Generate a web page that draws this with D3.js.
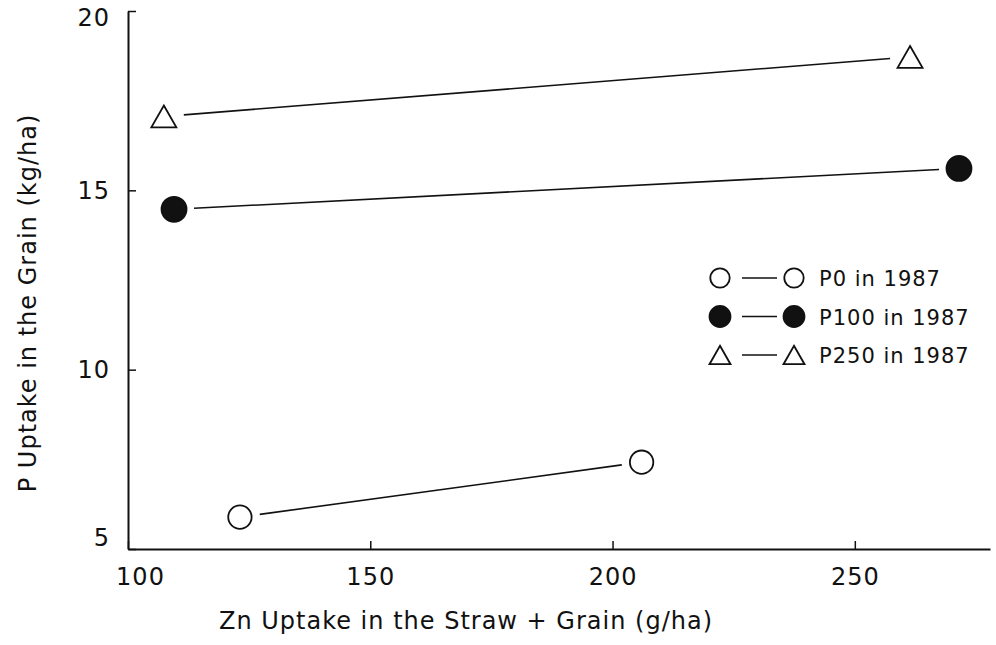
<!DOCTYPE html>
<html>
<head>
<meta charset="utf-8">
<script src="https://cdn.jsdelivr.net/npm/d3@7"></script>
<style>
  body { margin: 0; background: #fff; }
  svg text { font-family: "DejaVu Sans", sans-serif; fill: #111; }
</style>
</head>
<body>
<div id="chart"></div>
<script>
// series: [Zn uptake (g/ha), P uptake (kg/ha)]
var seriesNames = ["P0 in 1987", "P100 in 1987", "P250 in 1987"]
var p0 = [[123.1, 5.89], [206.0, 7.42]]
var p100 = [[109.5, 14.47], [271.5, 15.61]]
var p250 = [[107.4, 17.06], [261.4, 18.72]]
var xTicks = [100, 150, 200, 250]
var yTicks = [5, 10, 15, 20]

function chart(container) {
	var width = 996
	var height = 645
	var left = 128, right = 990, top = 11, bottom = 549

	var svg = d3.select(container).append("svg")
		.attr("width", width)
		.attr("height", height)

	var x = d3.scaleLinear().domain([100, 277.9]).range([left, right])
	var y = d3.scaleLinear().domain([5, 20]).range([bottom, top])

	var xAxis = svg.append("g")
		.attr("transform", "translate(0," + bottom + ")")
		.call(d3.axisBottom(x).tickValues(xTicks).tickSizeInner(-8).tickSizeOuter(0).tickPadding(19))
	var yAxis = svg.append("g")
		.attr("transform", "translate(" + left + ",0)")
		.call(d3.axisLeft(y).tickValues(yTicks).tickSizeInner(-8).tickSizeOuter(0).tickPadding(18))

	;[xAxis, yAxis].forEach(function(g) {
		g.select(".domain").attr("stroke", "#111").attr("stroke-width", 2)
		g.selectAll(".tick line").attr("stroke", "#111").attr("stroke-width", 1.5)
		g.selectAll(".tick text")
			.attr("font-size", 24)
			.attr("letter-spacing", 1)
			.attr("font-family", "DejaVu Sans")
			.attr("fill", "#111")
	})
	// end labels are nudged inward in the original
	xAxis.selectAll(".tick text").filter(function(d) { return d == 100 }).attr("dx", 12)
	yAxis.selectAll(".tick text").filter(function(d) { return d == 20 }).attr("dy", "0.62em")
	yAxis.selectAll(".tick text").filter(function(d) { return d == 5 }).attr("dy", "-0.15em")

	svg.append("text")
		.attr("x", 466).attr("y", 629)
		.attr("text-anchor", "middle")
		.attr("font-size", 24)
		.attr("letter-spacing", 1)
		.text("Zn Uptake in the Straw + Grain (g/ha)")

	svg.append("text")
		.attr("transform", "translate(36,303) rotate(-90)")
		.attr("text-anchor", "middle")
		.attr("font-size", 24)
		.attr("letter-spacing", 1)
		.text("P Uptake in the Grain (kg/ha)")

	var sets = [
		{ name: seriesNames[0], pts: p0, kind: "open" },
		{ name: seriesNames[1], pts: p100, kind: "filled" },
		{ name: seriesNames[2], pts: p250, kind: "tri" }
	]

	function marker(g, kind, cx, cy, r) {
		if (kind == "tri") {
			var h = r * 1.75
			var w = r * 2
			g.append("path")
				.attr("d", "M" + cx + "," + (cy - h / 2) + "L" + (cx + w / 2) + "," + (cy + h / 2) + "L" + (cx - w / 2) + "," + (cy + h / 2) + "Z")
				.attr("fill", "none").attr("stroke", "#111").attr("stroke-width", 1.8)
		} else {
			g.append("circle")
				.attr("cx", cx).attr("cy", cy).attr("r", kind == "filled" ? r : r - 0.8)
				.attr("fill", kind == "filled" ? "#111" : "none")
				.attr("stroke", "#111").attr("stroke-width", 1.8)
		}
	}

	var gap = 20
	sets.forEach(function(s) {
		var g = svg.append("g")
		var x1 = x(s.pts[0][0]), y1 = y(s.pts[0][1])
		var x2 = x(s.pts[1][0]), y2 = y(s.pts[1][1])
		var len = Math.sqrt((x2 - x1) * (x2 - x1) + (y2 - y1) * (y2 - y1))
		var ux = (x2 - x1) / len, uy = (y2 - y1) / len
		g.append("line")
			.attr("x1", x1 + ux * gap).attr("y1", y1 + uy * gap)
			.attr("x2", x2 - ux * gap).attr("y2", y2 - uy * gap)
			.attr("stroke", "#111").attr("stroke-width", 1.6)
		s.pts.forEach(function(p) {
			marker(g, s.kind, x(p[0]), y(p[1]), 12.5)
		})
	})

	// legend
	var legend = svg.append("g")
	sets.forEach(function(s, i) {
		var ly = 278 + i * 38.5
		legend.append("line")
			.attr("x1", 742).attr("x2", 777).attr("y1", ly).attr("y2", ly)
			.attr("stroke", "#111").attr("stroke-width", 1.5)
		marker(legend, s.kind, 720, ly, 10.5)
		marker(legend, s.kind, 794, ly, 10.5)
		legend.append("text")
			.attr("x", 819).attr("y", ly + 8)
			.attr("font-size", 21)
			.attr("letter-spacing", 1)
			.text(s.name)
	})
}

chart("#chart")
</script>
</body>
</html>
